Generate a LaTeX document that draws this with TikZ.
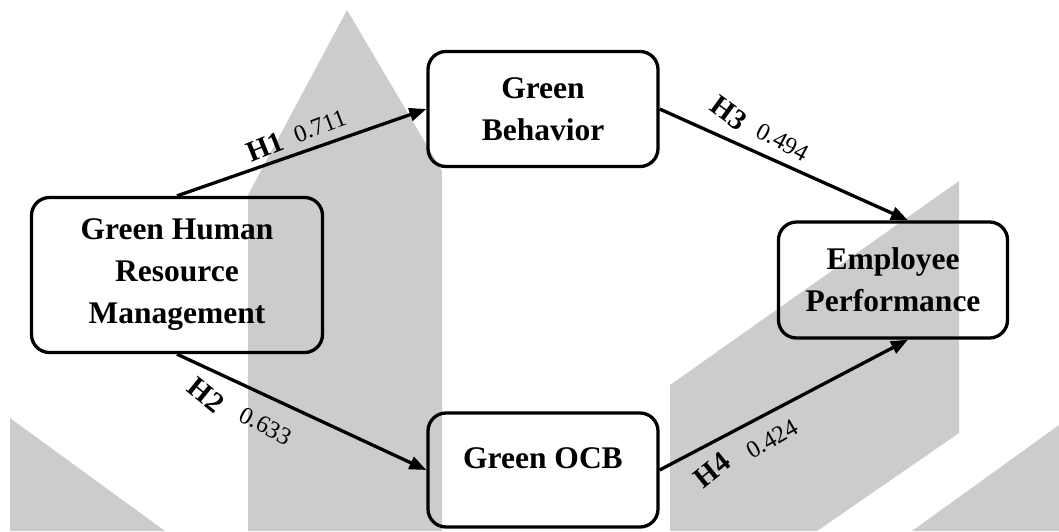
\documentclass[tikz,border=0pt]{standalone}
\usepackage{fontspec}
\setmainfont{Liberation Serif}
\usetikzlibrary{arrows.meta}
\begin{document}
\begin{tikzpicture}[x=1pt,y=-1pt,
  construct/.style={draw=black, line width=3.3pt, rounded corners=18pt,
    align=center, inner sep=0pt,
    font=\fontsize{31.5}{42}\selectfont\bfseries},
  link/.style={line width=3.3pt, -{Triangle[length=17pt,width=13pt]}},
  hyp/.style={inner sep=0pt, font=\fontsize{29}{30}\selectfont\bfseries},
  coef/.style={inner sep=0pt, font=\fontsize{24.5}{26}\selectfont},
  watermark/.style={fill=black!20, draw=none}]

\useasboundingbox (0,0) rectangle (1059,531);

% faint logo shapes behind the model
\fill[watermark] (347,10) -- (442,171) -- (442,531) -- (248,531) -- (248,195) -- cycle;
\fill[watermark] (670,385) -- (959,181) -- (959,433) -- (817,531) -- (670,531) -- cycle;
\fill[watermark] (10,418) -- (165,531) -- (10,531) -- cycle;
\fill[watermark] (912,531) -- (1059,425) -- (1059,531) -- cycle;

% constructs
\node[construct, minimum width=291pt, minimum height=155pt] (ghrm) at (177,275)
  {Green Human\\Resource\\Management};
\node[construct, minimum width=230pt, minimum height=115pt] (gb) at (543,109)
  {Green\\Behavior};
\node[construct, minimum width=230pt, minimum height=114pt,
  text height=22pt, text depth=26pt] (gocb) at (543,470) {Green OCB};
\node[construct, minimum width=229pt, minimum height=116pt] (ep) at (893,280)
  {Employee\\Performance};

% hypothesised paths
\draw[link] (ghrm.north) -- (gb.west);
\draw[link] (ghrm.south) -- (gocb.west);
\draw[link] (gb.east) -- ([xshift=15pt]ep.north);
\draw[link] (gocb.east) -- ([xshift=15pt]ep.south);

% path labels and coefficients
\node[hyp, rotate=22] (h1) at (265,147) {H1};
\node[coef, rotate=21] (c1) at (320,126) {0.711};
\node[hyp, rotate=-36] (h3) at (729,113) {H3};
\node[coef, rotate=-28] (c3) at (783,142) {0.494};
\node[hyp, rotate=-39] (h2) at (206,395) {H2};
\node[coef, rotate=-28] (c2) at (266,426) {0.633};
\node[hyp, rotate=39] (h4) at (712,470) {H4};
\node[coef, rotate=30] (c4) at (772,439) {0.424};
\end{tikzpicture}
\end{document}
